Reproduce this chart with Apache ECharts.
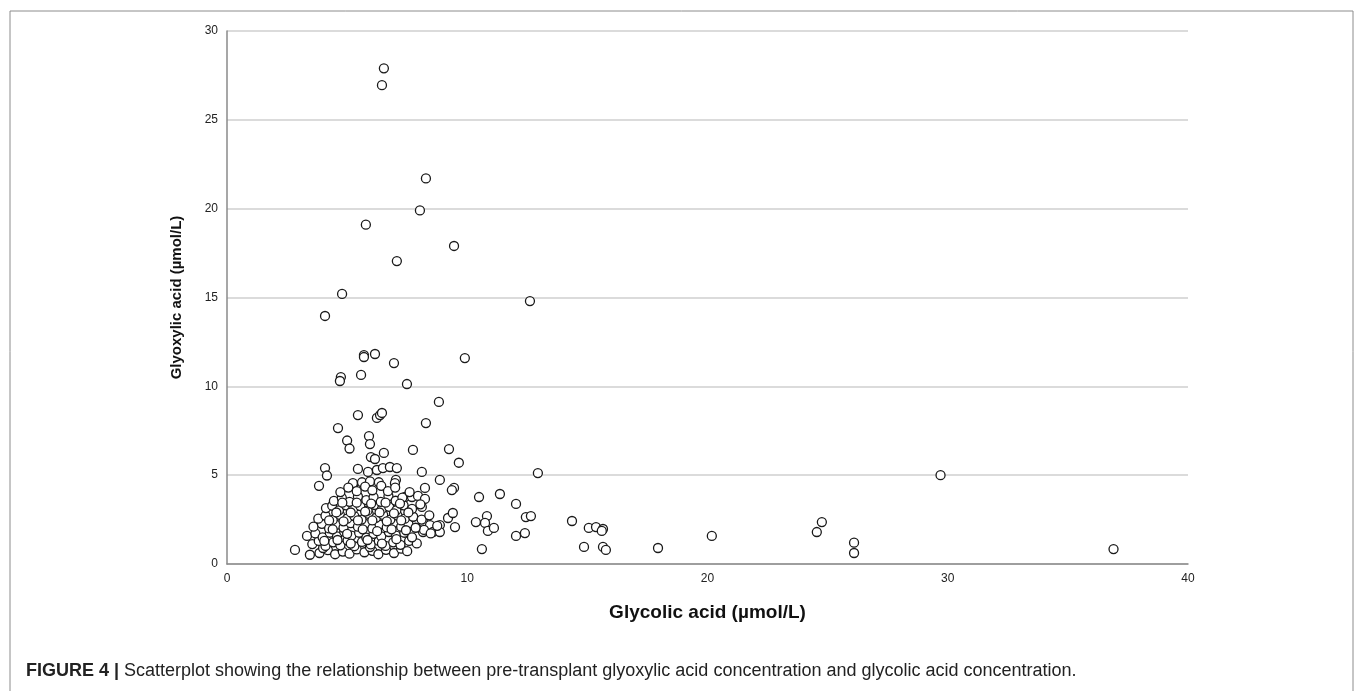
<!DOCTYPE html>
<html lang="en">
<head>
  <meta charset="UTF-8">
  <title>Glyoxylic vs glycolic acid</title>
  <script src="https://cdn.jsdelivr.net/npm/echarts@6/dist/echarts.min.js"></script>
</head>
<body style="margin:0;background:#fff;">
<div id="main" style="width:1355px;height:691px;"></div>
<script>
  // axis ticks
  var xTicks = [0, 10, 20, 30, 40];
  var yTicks = [0, 5, 10, 15, 20, 25, 30];

  // [glycolic, glyoxylic] in µmol/L
  var highPoints = [
    [6.53, 27.9], [6.45, 26.95], [8.28, 21.7], [8.03, 19.9], [5.78, 19.1], [9.45, 17.9],
    [7.07, 17.05], [4.79, 15.2], [12.61, 14.8], [4.08, 13.96],
    [5.70, 11.76], [5.70, 11.65], [6.16, 11.82], [6.95, 11.31], [9.90, 11.59],
    [4.74, 10.52], [4.70, 10.3], [5.58, 10.64], [7.49, 10.13]
  ];
  var midPoints = [
    [8.82, 9.12], [5.45, 8.38], [6.24, 8.22], [6.37, 8.38], [6.45, 8.5], [8.28, 7.93],
    [4.62, 7.65], [5.0, 6.95], [5.1, 6.5], [5.91, 7.2], [5.95, 6.75], [6.53, 6.25],
    [5.99, 6.02], [6.16, 5.91], [7.74, 6.42], [9.24, 6.47], [9.65, 5.7], [12.94, 5.12],
    [4.08, 5.4], [4.16, 4.98], [3.83, 4.4],
    [5.45, 5.35], [5.87, 5.18], [6.24, 5.29], [6.49, 5.4], [6.78, 5.46], [7.07, 5.4],
    [8.11, 5.18], [7.03, 4.73], [5.24, 4.39], [5.24, 4.55], [5.62, 4.6], [5.95, 4.65],
    [6.32, 4.6], [6.99, 4.55], [8.86, 4.73], [8.24, 4.28], [9.45, 4.28], [9.36, 4.16]
  ];
  var tailPoints = [
    [7.41, 3.77], [7.70, 3.77], [7.95, 3.83], [8.24, 3.66], [8.11, 3.21], [9.2, 2.59],
    [8.16, 2.36], [8.45, 2.19], [8.86, 2.19], [8.57, 1.8], [8.86, 1.8], [8.16, 1.8],
    [9.4, 2.87], [9.49, 2.08], [10.49, 3.77], [11.36, 3.94], [12.03, 3.38], [10.36, 2.36],
    [10.82, 2.7], [10.74, 2.31], [10.86, 1.86], [11.11, 2.03], [10.61, 0.84], [12.44, 2.64],
    [12.65, 2.7], [12.03, 1.58], [12.4, 1.74], [14.36, 2.42], [15.06, 2.03], [15.36, 2.08],
    [15.65, 1.97], [15.6, 1.86], [14.86, 0.96], [15.65, 0.96], [15.77, 0.79], [17.94, 0.9],
    [20.18, 1.58], [24.55, 1.8], [24.76, 2.36], [26.1, 1.2], [26.1, 0.62], [29.7, 5.0],
    [36.9, 0.84]
  ];
  var clusterPoints = [
    [2.83, 0.79], [3.45, 0.52], [3.85, 0.62], [4.2, 0.78], [4.5, 0.55], [4.82, 0.7], [5.1, 0.58],
    [5.4, 0.82], [5.72, 0.66], [6.05, 0.74], [6.3, 0.55], [6.62, 0.8], [6.95, 0.62], [7.25, 0.86],
    [7.5, 0.72], [4.0, 0.9], [5.95, 0.95],
    [3.55, 1.12], [3.82, 1.3], [4.1, 1.02], [4.42, 1.22], [4.72, 1.05], [5.02, 1.32], [5.3, 1.0],
    [5.62, 1.24], [5.98, 1.1], [6.32, 1.3], [6.6, 1.02], [6.92, 1.22], [7.22, 1.08], [7.58, 1.3],
    [7.9, 1.16],
    [3.33, 1.58], [3.68, 1.72], [3.98, 1.5], [4.28, 1.76], [4.58, 1.55], [4.88, 1.82], [5.18, 1.6],
    [5.5, 1.76], [5.8, 1.48], [6.1, 1.7], [6.42, 1.56], [6.74, 1.8], [7.04, 1.6], [7.38, 1.76],
    [7.7, 1.5], [8.2, 1.92], [8.48, 1.72],
    [3.6, 2.1], [3.95, 2.26], [4.25, 2.0], [4.55, 2.2], [4.85, 2.04], [5.15, 2.3], [5.45, 2.1],
    [5.75, 2.26], [6.05, 2.0], [6.35, 2.22], [6.65, 2.06], [6.95, 2.32], [7.25, 2.1], [7.55, 2.26],
    [7.85, 2.04], [8.75, 2.15],
    [3.8, 2.55], [4.1, 2.72], [4.4, 2.48], [4.7, 2.76], [5.0, 2.55], [5.3, 2.7], [5.6, 2.5],
    [5.9, 2.82], [6.2, 2.6], [6.5, 2.76], [6.8, 2.5], [7.1, 2.72], [7.4, 2.55], [7.75, 2.66],
    [8.1, 2.5], [8.42, 2.74],
    [4.12, 3.15], [4.38, 3.28], [4.66, 3.02], [4.95, 3.3], [5.25, 3.1], [5.55, 3.26], [5.85, 3.0],
    [6.15, 3.32], [6.45, 3.1], [6.75, 3.22], [7.05, 3.02], [7.35, 3.3], [7.7, 3.1], [8.05, 3.36],
    [4.45, 3.55], [4.78, 3.72], [5.1, 3.5], [5.45, 3.8], [5.8, 3.6], [6.1, 3.76], [6.4, 3.5],
    [6.72, 3.82], [7.02, 3.56], [7.3, 3.74],
    [4.72, 4.05], [5.05, 4.3], [5.4, 4.1], [5.75, 4.36], [6.05, 4.15], [6.42, 4.4], [6.7, 4.1],
    [7.0, 4.3], [7.6, 4.05],
    [4.05, 1.3], [4.6, 1.35], [5.15, 1.15], [5.85, 1.35], [6.45, 1.15], [7.05, 1.4], [4.4, 1.95],
    [5.0, 1.7], [5.65, 1.95], [6.25, 1.85], [6.85, 1.95], [7.45, 1.9], [4.25, 2.45], [4.85, 2.4],
    [5.45, 2.45], [6.05, 2.45], [6.65, 2.4], [7.25, 2.45], [4.55, 2.9], [5.15, 2.9], [5.75, 2.95],
    [6.35, 2.9], [6.95, 2.85], [7.55, 2.9], [4.8, 3.45], [5.4, 3.45], [6.0, 3.4], [6.6, 3.45],
    [7.2, 3.4]
  ];

  var allPoints = highPoints.concat(midPoints, tailPoints, clusterPoints);

  var font = '"Liberation Sans", Arial, sans-serif';
  var myChart = echarts.init(document.getElementById('main'));

  var option = {
    backgroundColor: '#fff',
    animation: false,
    grid: { left: 227, right: 167, top: 31, bottom: 127, containLabel: false },
    xAxis: {
      type: 'value',
      min: xTicks[0],
      max: xTicks[xTicks.length - 1],
      interval: 10,
      name: 'Glycolic acid (µmol/L)',
      nameLocation: 'middle',
      nameGap: 39,
      nameTextStyle: { fontFamily: font, fontSize: 19, fontWeight: 'bold', color: '#111' },
      axisLine: { lineStyle: { color: '#8a8a8a', width: 1.5 } },
      axisTick: { show: false },
      splitLine: { show: false },
      axisLabel: { fontFamily: font, fontSize: 12, color: '#222', margin: 9 }
    },
    yAxis: {
      type: 'value',
      min: yTicks[0],
      max: yTicks[yTicks.length - 1],
      interval: 5,
      name: 'Glyoxylic acid (µmol/L)',
      nameLocation: 'middle',
      nameGap: 43,
      nameTextStyle: { fontFamily: font, fontSize: 15, fontWeight: 'bold', color: '#111' },
      axisLine: { show: true, lineStyle: { color: '#8a8a8a', width: 1.5 } },
      axisTick: { show: false },
      splitLine: { lineStyle: { color: '#cfcfcf', width: 1.5 } },
      axisLabel: { fontFamily: font, fontSize: 12, color: '#222', margin: 9 }
    },
    graphic: [
      {
        type: 'rect',
        shape: { x: 10, y: 11, width: 1343, height: 720 },
        style: { fill: 'none', stroke: '#8c8c8c', lineWidth: 1 }
      },
      {
        type: 'text',
        left: 26,
        top: 662,
        style: {
          text: '{b|FIGURE 4 |} Scatterplot showing the relationship between pre-transplant glyoxylic acid concentration and glycolic acid concentration.',
          fontFamily: font,
          fontSize: 18,
          fill: '#222',
          rich: { b: { fontFamily: font, fontSize: 18, fontWeight: 'bold', fill: '#222' } }
        }
      }
    ],
    series: [
      {
        type: 'scatter',
        data: allPoints,
        symbol: 'circle',
        symbolSize: 9,
        itemStyle: { color: '#fff', borderColor: '#1a1a1a', borderWidth: 1.3, opacity: 1 }
      }
    ]
  };

  myChart.setOption(option);
</script>
</body>
</html>
